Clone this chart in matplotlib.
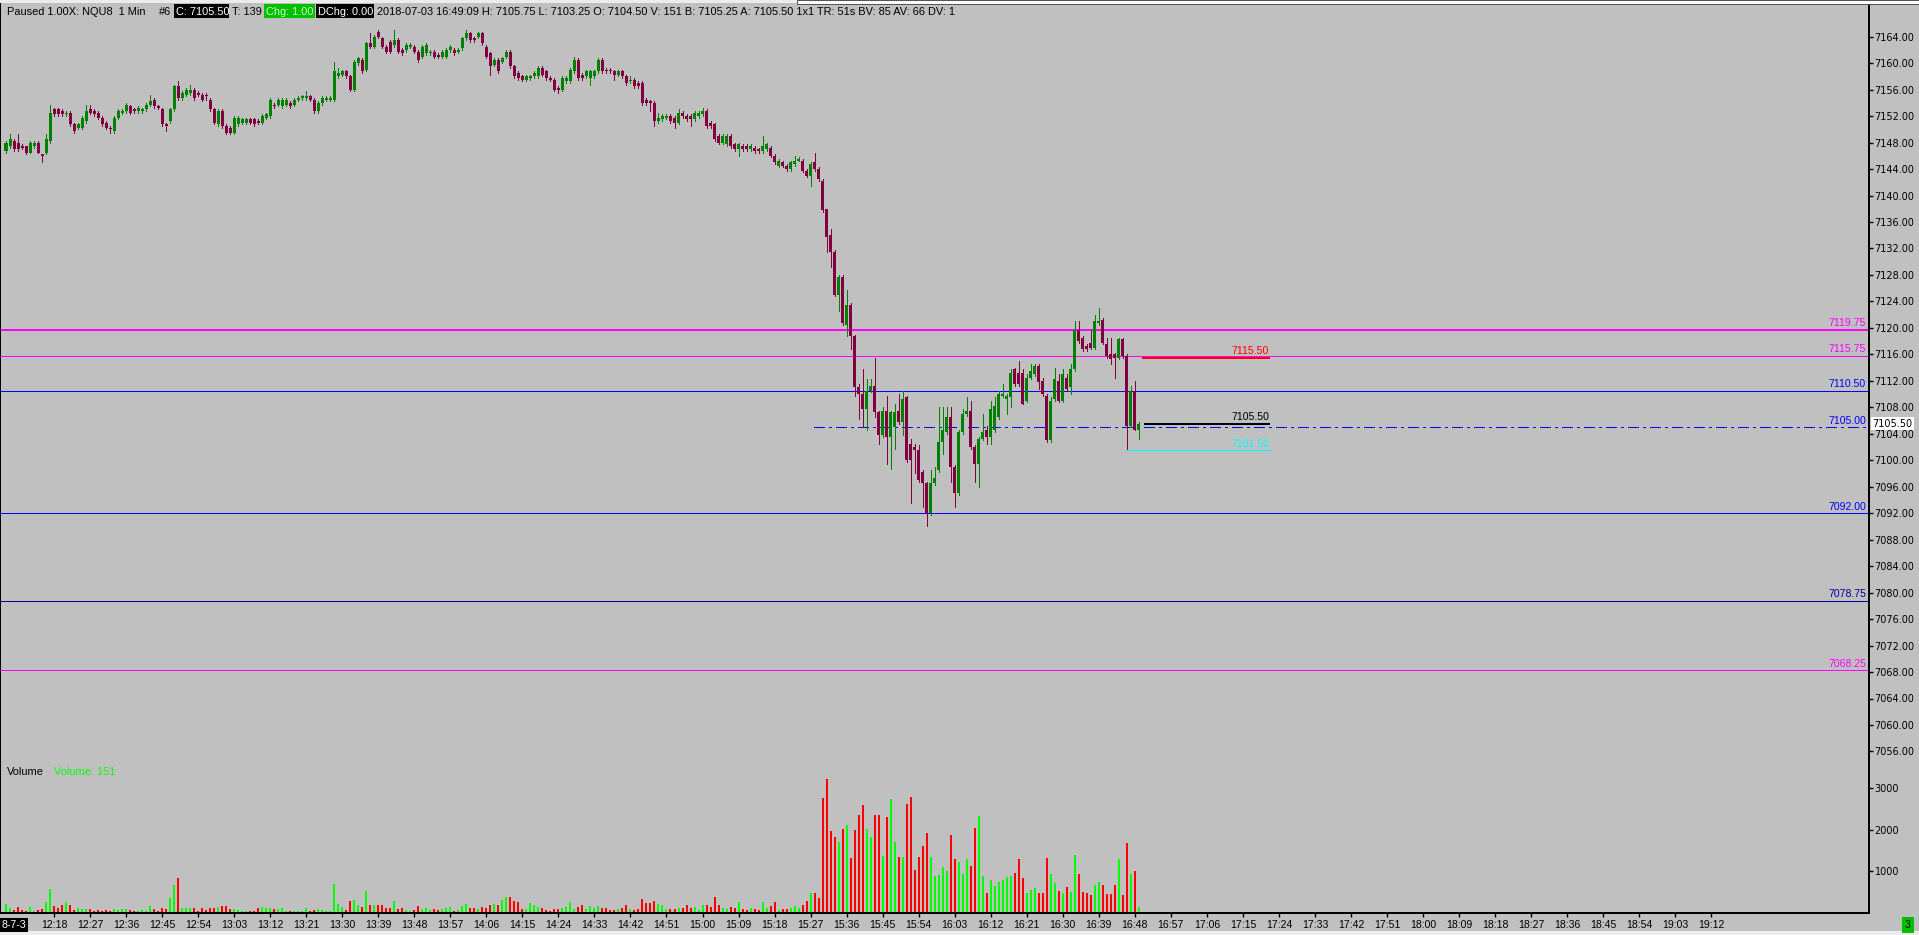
import numpy as np
import matplotlib
matplotlib.use('Agg')
import matplotlib.pyplot as plt
import matplotlib.transforms as mtransforms
from matplotlib.patches import Rectangle

# 1 minute NQU8 bars, first bar is 12:06
start_minute = 12 * 60 + 6

opens = [
    7146.75, 7147.5, 7148.25, 7148.0, 7147.5, 7147.5, 7146.5, 7147.5, 7148.0, 7146.25,
    7146.5, 7148.25, 7153.0, 7153.0, 7152.75, 7152.25, 7152.5, 7150.75, 7150.25, 7150.25,
    7151.25, 7153.0, 7152.75, 7152.5, 7151.75, 7151.0, 7150.25, 7149.75, 7151.75, 7152.5,
    7152.75, 7153.5, 7153.0, 7152.75, 7152.75, 7153.0, 7153.75, 7154.5, 7153.5, 7153.0,
    7150.75, 7151.25, 7153.0, 7156.5, 7154.75, 7155.25, 7155.5, 7156.0, 7155.5, 7155.25,
    7155.25, 7154.5, 7153.0, 7150.75, 7152.75, 7150.5, 7150.25, 7149.5, 7150.75, 7151.0,
    7151.0, 7151.5, 7151.5, 7151.25, 7151.0, 7151.75, 7152.0, 7153.75, 7153.75, 7153.5,
    7153.75, 7154.0, 7153.75, 7154.5, 7154.75, 7154.75, 7155.0, 7154.5, 7152.75, 7154.0,
    7154.5, 7154.5, 7154.5, 7158.0, 7158.25, 7158.75, 7158.0, 7156.0, 7160.0, 7160.5,
    7159.0, 7163.0, 7162.5, 7164.75, 7163.75, 7162.5, 7163.25, 7162.75, 7163.5, 7162.0,
    7162.0, 7162.5, 7162.5, 7161.75, 7161.0, 7161.5, 7161.5, 7161.75, 7161.25, 7161.0,
    7161.0, 7162.0, 7162.0, 7161.75, 7162.25, 7163.75, 7164.5, 7163.75, 7164.0, 7164.5,
    7162.5, 7161.5, 7159.75, 7160.5, 7160.25, 7161.0, 7161.75, 7159.5, 7158.5, 7158.0,
    7157.5, 7157.75, 7158.0, 7158.0, 7159.25, 7158.75, 7157.75, 7157.5, 7156.25, 7156.0,
    7157.25, 7157.25, 7158.75, 7160.5, 7158.25, 7158.0, 7157.75, 7158.0, 7158.75, 7160.5,
    7159.0, 7159.0, 7158.75, 7158.25, 7158.75, 7158.0, 7157.25, 7157.5, 7157.0, 7157.0,
    7154.5, 7154.25, 7154.0, 7151.25, 7151.5, 7151.75, 7152.0, 7151.75, 7151.0, 7152.5,
    7152.0, 7152.0, 7151.5, 7152.0, 7152.25, 7152.75, 7151.0, 7150.75, 7149.0, 7148.0,
    7147.75, 7149.0, 7147.75, 7147.0, 7147.5, 7147.5, 7147.0, 7147.25, 7147.0, 7146.75,
    7147.0, 7147.25, 7146.0, 7144.5, 7145.0, 7144.5, 7144.0, 7144.75, 7145.25, 7145.25,
    7143.75, 7143.0, 7145.0, 7144.0, 7142.25, 7138.0, 7134.0, 7131.5, 7125.0, 7127.75,
    7120.5, 7123.5, 7118.75, 7111.0, 7110.0, 7107.75, 7110.5, 7111.25, 7107.25, 7103.75,
    7107.5, 7103.5, 7105.0, 7107.5, 7105.75, 7109.5, 7102.5, 7102.0, 7101.5, 7098.25,
    7096.5, 7092.0, 7096.5, 7098.5, 7102.75, 7104.25, 7106.5, 7099.0, 7095.0, 7104.25,
    7107.0, 7107.5, 7102.0, 7099.5, 7103.25, 7104.5, 7103.5, 7104.5, 7106.5, 7109.75,
    7109.25, 7109.5, 7113.75, 7113.25, 7113.25, 7109.0, 7112.5, 7113.0, 7114.25, 7112.0,
    7109.75, 7103.0, 7109.25, 7112.0, 7109.0, 7112.5, 7111.0, 7113.75, 7119.75, 7118.5,
    7117.25, 7117.75, 7117.0, 7120.75, 7121.25, 7117.5, 7116.0, 7116.0, 7115.5, 7118.25,
    7115.75, 7105.25, 7110.5, 7104.5,
]
highs = [
    7148.25, 7149.25, 7148.5, 7149.25, 7147.75, 7147.5, 7148.25, 7148.25, 7148.25, 7146.25,
    7149.25, 7153.75, 7153.25, 7153.25, 7153.0, 7152.75, 7152.75, 7151.0, 7151.0, 7152.0,
    7153.75, 7153.75, 7153.0, 7152.75, 7152.0, 7151.25, 7150.5, 7152.0, 7153.0, 7153.0,
    7154.0, 7153.75, 7153.25, 7153.5, 7153.25, 7154.0, 7155.25, 7154.75, 7153.75, 7153.25,
    7151.0, 7153.25, 7156.75, 7157.25, 7155.75, 7156.25, 7156.75, 7156.25, 7155.75, 7155.5,
    7155.5, 7154.75, 7153.25, 7153.0, 7153.0, 7150.75, 7150.5, 7152.0, 7152.0, 7151.75,
    7151.75, 7151.75, 7151.75, 7151.5, 7152.25, 7152.5, 7154.75, 7154.0, 7154.75, 7154.75,
    7154.75, 7154.25, 7154.75, 7155.0, 7155.25, 7155.75, 7155.25, 7154.75, 7154.25, 7155.0,
    7155.0, 7155.0, 7160.25, 7159.25, 7159.0, 7159.0, 7158.25, 7160.5, 7161.0, 7160.75,
    7163.25, 7164.5, 7164.25, 7165.0, 7164.0, 7162.75, 7163.5, 7165.0, 7163.75, 7162.25,
    7163.0, 7163.0, 7162.75, 7162.0, 7162.75, 7163.0, 7162.0, 7162.0, 7161.5, 7162.0,
    7162.25, 7162.75, 7162.25, 7162.25, 7164.0, 7165.0, 7164.75, 7164.0, 7164.75, 7164.75,
    7162.75, 7161.75, 7160.75, 7160.75, 7161.0, 7162.0, 7162.0, 7159.75, 7158.75, 7158.25,
    7158.25, 7158.25, 7158.75, 7159.5, 7159.5, 7159.0, 7158.0, 7157.75, 7156.5, 7158.0,
    7158.0, 7159.25, 7161.0, 7160.75, 7158.5, 7159.0, 7159.0, 7159.0, 7160.75, 7160.75,
    7159.25, 7159.25, 7159.0, 7159.0, 7159.0, 7158.25, 7158.0, 7157.75, 7157.25, 7157.25,
    7154.75, 7154.5, 7154.25, 7152.5, 7152.25, 7152.25, 7152.25, 7152.0, 7153.0, 7152.75,
    7152.25, 7152.25, 7152.75, 7152.75, 7153.25, 7153.0, 7151.25, 7151.0, 7149.25, 7149.25,
    7149.25, 7149.25, 7148.0, 7148.0, 7147.75, 7147.75, 7147.75, 7147.5, 7147.25, 7149.0,
    7148.0, 7147.5, 7146.25, 7145.5, 7145.25, 7144.75, 7145.25, 7146.0, 7145.75, 7145.5,
    7144.0, 7145.0, 7146.5, 7144.25, 7142.5, 7138.0, 7135.0, 7131.75, 7128.0, 7128.0,
    7125.75, 7123.75, 7119.0, 7111.5, 7113.75, 7112.25, 7112.25, 7115.5, 7107.5, 7108.0,
    7109.75, 7107.5, 7108.5, 7110.0, 7110.5, 7109.75, 7103.25, 7102.5, 7102.25, 7098.5,
    7096.75, 7098.5, 7099.0, 7108.0, 7108.0, 7108.0, 7108.0, 7099.25, 7104.5, 7107.75,
    7109.5, 7109.0, 7102.25, 7103.5, 7107.0, 7105.25, 7109.0, 7109.5, 7110.5, 7111.5,
    7110.0, 7113.75, 7114.0, 7115.0, 7113.75, 7113.0, 7114.5, 7114.5, 7114.5, 7112.5,
    7110.0, 7109.5, 7114.0, 7113.0, 7113.75, 7113.0, 7114.5, 7121.0, 7121.0, 7118.75,
    7117.5, 7119.75, 7122.0, 7123.0, 7121.5, 7118.5, 7118.5, 7116.25, 7118.5, 7118.5,
    7116.0, 7111.25, 7112.0, 7105.75,
]
lows = [
    7146.5, 7147.25, 7146.75, 7146.75, 7147.0, 7146.25, 7146.5, 7147.25, 7146.5, 7145.0,
    7146.25, 7148.0, 7152.0, 7152.0, 7152.0, 7152.0, 7150.5, 7149.5, 7150.0, 7150.0,
    7151.0, 7152.25, 7152.0, 7151.5, 7150.5, 7150.0, 7149.5, 7149.5, 7151.5, 7152.25,
    7152.5, 7152.25, 7152.5, 7152.5, 7152.5, 7152.75, 7153.5, 7153.25, 7153.0, 7150.5,
    7149.75, 7151.0, 7152.75, 7154.5, 7154.5, 7155.0, 7155.25, 7154.5, 7155.0, 7154.25,
    7154.5, 7152.75, 7150.75, 7150.5, 7150.25, 7149.25, 7149.25, 7149.25, 7150.5, 7150.75,
    7150.75, 7150.75, 7150.5, 7150.75, 7150.75, 7151.5, 7151.75, 7153.25, 7153.5, 7153.25,
    7153.5, 7153.25, 7153.5, 7154.25, 7154.5, 7154.5, 7154.25, 7152.5, 7152.5, 7153.75,
    7154.25, 7154.25, 7154.25, 7157.75, 7158.0, 7157.75, 7155.75, 7155.75, 7159.75, 7158.5,
    7158.75, 7162.25, 7162.25, 7163.75, 7162.25, 7161.5, 7161.5, 7162.5, 7161.5, 7161.25,
    7161.75, 7162.25, 7161.5, 7160.25, 7160.75, 7161.25, 7161.25, 7160.75, 7160.75, 7160.75,
    7160.75, 7161.75, 7161.25, 7161.5, 7162.0, 7163.5, 7163.25, 7163.25, 7163.75, 7162.75,
    7160.75, 7158.25, 7159.5, 7158.5, 7160.0, 7160.75, 7159.25, 7157.75, 7157.5, 7157.25,
    7157.25, 7157.5, 7157.75, 7157.75, 7158.0, 7157.5, 7157.25, 7155.75, 7155.5, 7155.75,
    7157.0, 7157.0, 7158.5, 7157.5, 7157.5, 7157.75, 7156.75, 7157.75, 7158.5, 7158.5,
    7158.5, 7158.5, 7157.5, 7158.0, 7157.75, 7156.75, 7157.0, 7156.25, 7156.25, 7153.75,
    7153.75, 7152.75, 7150.5, 7151.0, 7151.25, 7151.5, 7151.0, 7150.25, 7150.75, 7151.75,
    7151.25, 7150.5, 7151.25, 7151.75, 7152.0, 7150.25, 7150.25, 7148.25, 7147.75, 7147.75,
    7147.5, 7147.25, 7146.75, 7146.0, 7146.75, 7146.75, 7146.75, 7146.5, 7146.5, 7146.5,
    7146.75, 7145.75, 7144.75, 7144.25, 7144.25, 7143.75, 7143.75, 7144.5, 7145.25, 7143.5,
    7142.75, 7141.5, 7143.75, 7142.25, 7137.5, 7131.5, 7129.25, 7124.75, 7122.5, 7120.5,
    7118.75, 7116.75, 7109.75, 7106.25, 7105.0, 7104.5, 7110.25, 7106.5, 7102.5, 7103.5,
    7099.5, 7098.75, 7101.75, 7105.5, 7103.75, 7099.75, 7093.5, 7098.0, 7096.75, 7093.0,
    7090.0, 7091.75, 7096.25, 7098.25, 7101.0, 7104.0, 7096.75, 7093.0, 7094.75, 7104.0,
    7106.75, 7101.75, 7096.75, 7096.0, 7103.0, 7102.5, 7102.5, 7104.25, 7106.25, 7109.5,
    7107.0, 7108.0, 7111.25, 7111.25, 7108.5, 7108.75, 7112.25, 7112.75, 7110.75, 7109.75,
    7102.75, 7102.75, 7109.0, 7108.75, 7108.75, 7110.5, 7110.0, 7113.5, 7117.75, 7116.5,
    7116.5, 7116.75, 7116.75, 7120.5, 7117.5, 7115.5, 7114.5, 7112.5, 7115.25, 7115.5,
    7101.5, 7105.0, 7104.5, 7103.25,
]
closes = [
    7148.0, 7148.5, 7147.0, 7147.0, 7147.25, 7146.5, 7148.0, 7148.0, 7146.5, 7146.0,
    7148.5, 7152.5, 7152.25, 7152.25, 7152.25, 7152.5, 7150.75, 7149.75, 7150.75, 7151.75,
    7152.75, 7152.5, 7152.25, 7151.75, 7150.75, 7150.25, 7150.0, 7151.75, 7152.75, 7152.75,
    7153.75, 7152.5, 7152.75, 7153.25, 7153.0, 7153.75, 7154.25, 7153.5, 7153.25, 7150.75,
    7150.5, 7153.0, 7156.5, 7154.75, 7155.5, 7156.0, 7156.0, 7154.75, 7155.25, 7154.5,
    7155.0, 7153.0, 7151.0, 7152.75, 7150.5, 7149.5, 7149.5, 7151.75, 7151.75, 7151.5,
    7151.5, 7151.0, 7150.75, 7151.0, 7152.0, 7152.25, 7154.5, 7153.5, 7154.5, 7154.5,
    7154.5, 7153.5, 7154.5, 7154.75, 7155.0, 7155.0, 7154.5, 7152.75, 7154.0, 7154.75,
    7154.75, 7154.75, 7158.75, 7158.5, 7158.75, 7158.0, 7156.0, 7160.25, 7160.75, 7158.75,
    7163.0, 7162.5, 7164.0, 7164.0, 7162.5, 7161.75, 7161.75, 7163.5, 7161.75, 7161.5,
    7162.75, 7162.75, 7161.75, 7160.5, 7162.5, 7162.75, 7161.75, 7161.0, 7161.0, 7161.75,
    7162.0, 7162.5, 7161.5, 7162.0, 7163.75, 7164.5, 7163.5, 7163.5, 7164.5, 7163.0,
    7161.0, 7159.5, 7160.5, 7158.75, 7160.75, 7161.75, 7159.5, 7158.0, 7157.75, 7157.5,
    7158.0, 7158.0, 7158.5, 7159.25, 7158.25, 7157.75, 7157.5, 7156.0, 7156.0, 7157.75,
    7157.75, 7159.0, 7160.5, 7157.75, 7157.75, 7158.75, 7158.75, 7158.75, 7160.5, 7158.75,
    7158.75, 7158.75, 7158.25, 7158.75, 7158.0, 7157.0, 7157.5, 7156.5, 7156.5, 7154.0,
    7154.0, 7154.0, 7151.25, 7151.75, 7152.0, 7152.0, 7151.25, 7151.0, 7152.5, 7152.0,
    7151.5, 7151.5, 7152.5, 7152.5, 7152.75, 7150.5, 7150.5, 7148.5, 7148.0, 7149.0,
    7149.0, 7147.5, 7147.0, 7147.75, 7147.0, 7147.0, 7147.5, 7146.75, 7146.75, 7147.5,
    7147.75, 7146.0, 7145.0, 7145.25, 7144.5, 7144.0, 7145.0, 7145.25, 7145.5, 7143.75,
    7143.0, 7144.75, 7144.0, 7142.5, 7137.75, 7133.75, 7131.5, 7125.0, 7127.75, 7120.75,
    7123.5, 7118.75, 7111.0, 7110.0, 7107.75, 7110.5, 7111.25, 7107.25, 7103.75, 7107.5,
    7103.5, 7107.25, 7107.25, 7105.75, 7109.25, 7100.0, 7100.0, 7101.5, 7097.0, 7096.5,
    7092.0, 7096.5, 7097.25, 7102.75, 7104.5, 7106.5, 7099.0, 7095.0, 7104.25, 7107.0,
    7107.5, 7102.0, 7099.5, 7103.25, 7104.25, 7103.5, 7107.75, 7108.25, 7110.0, 7110.0,
    7109.75, 7113.25, 7111.5, 7111.5, 7108.5, 7112.5, 7113.5, 7114.25, 7111.75, 7110.0,
    7103.0, 7109.0, 7112.25, 7109.0, 7113.0, 7110.75, 7113.75, 7119.75, 7118.0, 7116.75,
    7116.75, 7117.0, 7121.0, 7121.0, 7117.75, 7115.75, 7115.25, 7115.5, 7118.25, 7115.75,
    7105.25, 7110.5, 7104.5, 7105.5,
]
volumes = [
    224, 120, 80, 144, 80, 56, 144, 56, 80, 104,
    272, 584, 176, 128, 200, 272, 200, 80, 128, 104,
    104, 104, 56, 80, 56, 80, 56, 104, 80, 104,
    104, 80, 56, 56, 80, 56, 176, 104, 56, 128,
    104, 368, 680, 848, 128, 128, 128, 128, 56, 128,
    80, 128, 128, 152, 176, 176, 104, 104, 80, 56,
    56, 56, 56, 128, 152, 128, 128, 104, 104, 128,
    56, 56, 56, 56, 56, 128, 56, 80, 104, 80,
    56, 56, 704, 224, 152, 80, 296, 320, 200, 152,
    536, 200, 200, 200, 200, 128, 128, 296, 104, 128,
    80, 56, 80, 176, 104, 128, 80, 104, 80, 104,
    128, 152, 56, 80, 176, 224, 128, 128, 104, 152,
    128, 200, 224, 200, 320, 392, 392, 296, 272, 104,
    104, 248, 200, 152, 128, 80, 56, 104, 104, 128,
    152, 272, 104, 152, 200, 104, 176, 128, 176, 128,
    128, 80, 80, 104, 128, 200, 104, 80, 104, 344,
    248, 248, 296, 224, 200, 104, 104, 104, 128, 128,
    200, 128, 152, 80, 200, 200, 152, 392, 200, 128,
    104, 152, 128, 272, 104, 80, 128, 104, 80, 272,
    128, 176, 272, 80, 104, 104, 128, 176, 128, 200,
    296, 488, 488, 368, 2768, 3224, 1976, 1832, 1712, 2024,
    2120, 1328, 2000, 2360, 2600, 2024, 1832, 2360, 2360, 1376,
    2312, 2744, 1712, 1352, 1352, 2624, 2792, 1040, 1352, 1616,
    1928, 1352, 896, 920, 1112, 1016, 1880, 1304, 1232, 944,
    1304, 1136, 2048, 2336, 896, 488, 800, 656, 752, 800,
    872, 896, 968, 1304, 848, 488, 560, 608, 488, 488,
    1328, 944, 728, 536, 488, 632, 512, 1400, 944, 512,
    488, 440, 680, 752, 680, 464, 464, 680, 1304, 440,
    1688, 944, 1016, 151,
]

# horizontal levels drawn across the chart
level_prices = [7119.75, 7115.75, 7110.50, 7092.00, 7078.75, 7068.25]
level_colors = ['#ff00ff', '#ff00ff', '#0000ff', '#0000ff', '#000099', '#ff00ff']
level_px = [2, 1, 1, 1, 1, 1]

last_price = 7105.50
session_low = 7101.50
high_mark = 7115.50
dash_level = 7105.00

price_ticks = np.arange(7056, 7165, 4)
volume_ticks = [1000, 2000, 3000]

W, H = 1919, 935
PT = 0.72  # points per pixel at dpi 100
BG = '#c0c0c0'
UP, DN = '#008000', '#800040'
narrow = ['Liberation Sans Narrow', 'Liberation Sans', 'DejaVu Sans']
plain = ['Liberation Sans', 'DejaVu Sans']

fig = plt.figure(figsize=(W / 100, H / 100), dpi=100)
fig.patch.set_facecolor(BG)

def fy(y):
    return 1 - y / H

axis_x = 1869
split = 765
ax = fig.add_axes([0, fy(split), axis_x / W, split / H])
axv = fig.add_axes([0, fy(913), axis_x / W, (913 - split) / H])

# pixel geometry: bar i sits at x = 6 + 4.003 * i, 7164 at y = 36.7, 6.618 px per point
step = 4.003
xl = (-6 / step, (axis_x - 6) / step)
ppp = 6.618
ylo = 7164 - (split - 36.7) / ppp
yhi = 7164 + 36.7 / ppp

for a in (ax, axv):
    a.set_facecolor(BG)
    a.set_xlim(*xl)
    for s in a.spines.values():
        s.set_color('black')
        s.set_linewidth(2 * PT)
        s.set_antialiased(False)
    a.spines['top'].set_visible(False)
ax.spines['bottom'].set_visible(False)
ax.set_ylim(ylo, yhi)
axv.set_ylim(0, (913 - split) * 24)

o = np.array(opens); h = np.array(highs); l = np.array(lows); c = np.array(closes)
v = np.array(volumes)
idx = np.arange(len(c))
up = c >= o
cols = np.where(up, UP, DN)

ax.vlines(idx, l, h, colors=cols, lw=1 * PT, zorder=3, antialiased=False)
body_lo = np.minimum(o, c)
body_h = np.maximum(np.abs(c - o), 0.16)
ax.bar(idx, body_h, bottom=body_lo, width=0.75, color=cols, lw=0, zorder=4,
       antialiased=False)

vcols = np.where(up, '#00ff00', '#ff0000')
axv.bar(idx, v, width=0.5, color=vcols, lw=0, antialiased=False)

# levels
lab_fs = 7.6
tr = mtransforms.blended_transform_factory(ax.transAxes, ax.transData)
for p, col, lw in zip(level_prices, level_colors, level_px):
    ax.axhline(p, color=col, lw=lw * PT, zorder=2, antialiased=False)
    ax.text(1866 / axis_x, p + 0.25, '%.2f' % p, transform=tr, color=col,
            ha='right', va='bottom', fontsize=lab_fs, family=narrow, zorder=5)

ax.hlines(dash_level, 201.8, xl[1], colors='#0000ff', lw=1.4 * PT,
          linestyles=(0, (7.5, 3, 1.5, 3)), zorder=2, antialiased=False)
ax.text(1866 / axis_x, dash_level + 0.25, '%.2f' % dash_level, transform=tr,
        color='#0000ff', ha='right', va='bottom', fontsize=lab_fs, family=narrow, zorder=5)

n_last = len(c) - 1
for p, x0, col, lw in [(high_mark, n_last + 0.8, '#ff0000', 2),
                       (last_price, n_last + 1.3, 'black', 1.5),
                       (session_low, n_last - 3.2, '#00ffff', 1)]:
    ax.hlines(p, x0, n_last + 32.8, colors=col, lw=lw * PT, zorder=5, antialiased=False)
    ax.text(n_last + 32.5, p + 0.25, '%.2f' % p, color=col, ha='right', va='bottom',
            fontsize=lab_fs, family=narrow, zorder=6)

# right axis
ax.yaxis.tick_right()
ax.set_yticks(price_ticks)
ax.set_yticklabels(['%.2f' % t for t in price_ticks])
ax.tick_params(axis='y', length=3, width=1, pad=1, labelsize=7, colors='black')
ax.set_xticks([])
axv.yaxis.tick_right()
axv.set_yticks(volume_ticks)
axv.set_yticklabels(['%d' % t for t in volume_ticks])
axv.tick_params(axis='y', length=3, width=1, pad=1, labelsize=7, colors='black')
for t in ax.get_yticklabels() + axv.get_yticklabels():
    t.set_family(['DejaVu Sans'])

# time axis, label every 9 minutes
tick_idx = np.arange(12, 427, 9)
axv.set_xticks(tick_idx)
axv.set_xticklabels(['%d:%02d' % divmod(start_minute + int(i), 60) for i in tick_idx])
axv.tick_params(axis='x', length=3, width=1, pad=2, labelsize=7.6)
for t in axv.get_xticklabels():
    t.set_family(narrow)

ax.text(1872 / axis_x, last_price, '%.2f' % last_price, transform=tr, ha='left',
        va='center', fontsize=7, family=['DejaVu Sans'], color='black', zorder=10,
        bbox=dict(boxstyle='square,pad=0.15', fc='white', ec='none'), clip_on=False)

# status line at top and window edges
fig.add_artist(Rectangle((0, fy(3)), 1, 3 / H, transform=fig.transFigure,
                         fc='#ececec', ec='none'))
fig.add_artist(Rectangle((797 / W, fy(4)), (W - 797) / W, 4 / H, transform=fig.transFigure,
                         fc='white', ec='#505050', lw=0.7))
fig.add_artist(Rectangle((0, 0), 1, 4 / H, transform=fig.transFigure,
                         fc='#ececec', ec='none'))
r = fig.canvas.get_renderer()
rest = ('2018-07-03 16:49:09 H: 7105.75 L: 7103.25 O: 7104.50 V: 151 B: 7105.25 '
        'A: 7105.50 1x1 TR: 51s BV: 85 AV: 66 DV: 1')
t = fig.text(377 / W, fy(12), rest, fontsize=8, family=plain, va='center')
fs = 8 * (953 - 377) / t.get_window_extent(r).width
t.set_fontsize(fs)
for x0, x1, fc in [(174, 229, 'black'), (264, 315, '#00c000'), (316, 374, 'black')]:
    fig.add_artist(Rectangle((x0 / W, fy(18)), (x1 - x0) / W, 14 / H,
                             transform=fig.transFigure, fc=fc, ec='none'))
for x, s, col in [(7, 'Paused 1.00X: NQU8  1 Min', 'black'), (159, '#6', 'black'),
                  (176, 'C: 7105.50', 'white'), (232, 'T: 139', 'black'),
                  (266, 'Chg: 1.00', '#c8ffc8'), (318, 'DChg: 0.00', 'white')]:
    fig.text(x / W, fy(12), s, fontsize=fs, family=plain, va='center', color=col)

fig.text(7 / W, fy(772), 'Volume', fontsize=fs, family=plain, va='center', color='black')
fig.text(54 / W, fy(772), 'Volume: 151', fontsize=fs, family=plain, va='center',
         color='#00ff00')

fig.text(1 / W, fy(925), '8-7-3', fontsize=7.6, family=narrow, va='center', color='white',
         bbox=dict(boxstyle='square,pad=0.2', fc='black', ec='none'))
fig.text(1908 / W, fy(925), '3', fontsize=7.6, family=narrow, va='center', ha='center',
         color='black', bbox=dict(boxstyle='square,pad=0.25', fc='#00c000', ec='none'))

fig.savefig('out.png', dpi=100, facecolor=BG)
